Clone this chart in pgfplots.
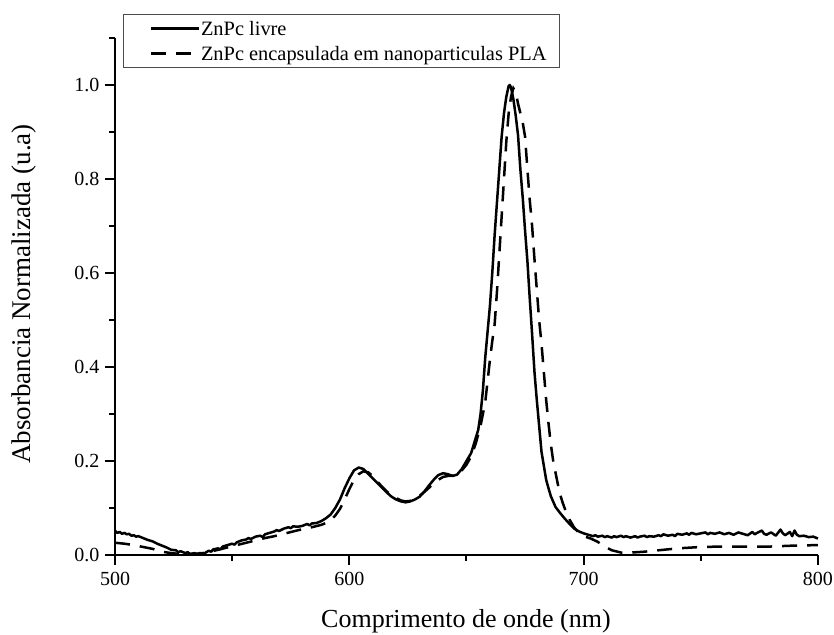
\documentclass[border=0pt]{standalone}
\usepackage{fontspec}
\setmainfont{Liberation Serif}
\usepackage{pgfplots}
\pgfplotsset{compat=1.18}
\begin{document}
\begin{tikzpicture}
\begin{axis}[
  scale only axis, width=703pt, height=517pt,
  xmin=500, xmax=800, ymin=0, ymax=1.1,
  axis lines*=left,
  axis line style={line width=2pt, black},
  xtick={500,600,700,800}, minor xtick={550,650,750},
  ytick={0,0.2,0.4,0.6,0.8,1.0}, minor ytick={0.1,0.3,0.5,0.7,0.9,1.1},
  tick align=outside, major tick length=10pt, minor tick length=6pt,
  every tick/.style={line width=2pt, black},
  /pgf/number format/assume math mode=true,
  ticklabel style={font=\fontsize{20}{23}\selectfont},
  yticklabel style={/pgf/number format/fixed, /pgf/number format/fixed zerofill, /pgf/number format/precision=1, xshift=-2pt},
  xticklabel style={/pgf/number format/1000 sep={}, yshift=-4pt},
  xlabel={Comprimento de onde (nm)},
  xlabel style={at={(rel axis cs:0.4993,-0.1412)}, anchor=base, font=\fontsize{26}{30}\selectfont},
  ylabel={Absorbancia Normalizada (u.a)},
  ylabel style={at={(rel axis cs:-0.1294,0.505)}, anchor=center, rotate=0, font=\fontsize{27}{31}\selectfont},
  legend cell align=left,
  legend image code/.code={\path (-14pt,0pt); \draw[#1] (0pt,0pt) -- (48pt,0pt);},
  legend style={at={(rel axis cs:0.0114,1.0464)}, anchor=north west, draw=black!70, line width=1pt, fill=white,
    inner xsep=12pt, inner ysep=4.5pt, row sep=6pt,
    font=\fontsize{20.4}{24}\selectfont,
    nodes={inner sep=1pt, text height=16pt, text depth=1pt}},
  clip=false,
]
\addplot[black, line width=2.5pt, line join=round] coordinates {
(500,0.052)(501,0.047)(502,0.049)(503,0.045)(504,0.047)(505,0.044)(506,0.045)(507,0.041)(508,0.042)(509,0.039)(510,0.040)(512,0.036)(514,0.032)(516,0.029)(518,0.024)(520,0.020)(522,0.016)(524,0.011)(526,0.010)(527,0.006)(528,0.008)(530,0.004)(531,0.006)(532,0.002)(534,0.004)(535,0.001)(536,0.004)(538,0.003)(540,0.009)(541,0.007)(542,0.012)(544,0.014)(545,0.012)(546,0.018)(548,0.021)(550,0.024)(551,0.022)(552,0.027)(554,0.031)(556,0.033)(557,0.036)(558,0.034)(560,0.039)(562,0.041)(563,0.038)(564,0.044)(566,0.047)(568,0.050)(569,0.053)(570,0.051)(572,0.056)(574,0.059)(575,0.057)(576,0.061)(578,0.060)(580,0.062)(582,0.066)(583,0.063)(584,0.067)(586,0.068)(588,0.072)(590,0.078)(592,0.086)(594,0.100)(596,0.118)(598,0.142)(600,0.163)(602,0.180)(604,0.186)(606,0.183)(608,0.173)(610,0.163)(612,0.153)(614,0.143)(616,0.133)(618,0.124)(620,0.118)(622,0.114)(624,0.112)(626,0.114)(628,0.118)(630,0.124)(632,0.135)(634,0.148)(636,0.160)(638,0.170)(640,0.174)(642,0.172)(644,0.168)(646,0.171)(648,0.183)(650,0.200)(652,0.217)(654,0.250)(655,0.266)(656,0.300)(657,0.350)(658,0.420)(659,0.475)(660,0.530)(661,0.600)(662,0.680)(663,0.750)(664,0.820)(665,0.890)(666,0.940)(667,0.975)(668,0.998)(668.5,1.000)(669,0.995)(670,0.970)(671,0.935)(672,0.893)(673,0.820)(674,0.760)(675,0.690)(676,0.625)(677,0.545)(678,0.470)(679,0.390)(680,0.330)(681,0.275)(682,0.220)(683,0.190)(684,0.160)(685,0.142)(686,0.125)(688,0.102)(690,0.089)(692,0.077)(694,0.066)(696,0.056)(698,0.050)
(700,0.046)(702,0.043)(704,0.040)(705,0.042)(706,0.039)(708,0.041)(709,0.038)(710,0.040)(712,0.037)(713,0.040)(714,0.038)(716,0.041)(717,0.038)(718,0.040)(720,0.037)(722,0.040)(723,0.037)(724,0.039)(726,0.041)(727,0.038)(728,0.040)(730,0.039)(732,0.042)(733,0.040)(734,0.044)(736,0.041)(738,0.043)(739,0.040)(740,0.045)(742,0.043)(744,0.046)(745,0.043)(746,0.047)(748,0.044)(750,0.046)(752,0.048)(753,0.044)(754,0.047)(756,0.045)(758,0.048)(760,0.044)(762,0.047)(764,0.043)(766,0.048)(768,0.045)(770,0.042)(772,0.049)(773,0.044)(774,0.047)(776,0.052)(777,0.045)(778,0.043)(780,0.048)(782,0.041)(784,0.054)(785,0.046)(786,0.042)(788,0.049)(789,0.040)(790,0.052)(791,0.043)(792,0.040)(794,0.041)(796,0.038)(798,0.039)(800,0.035)
};
\addlegendentry{ZnPc livre}
\addplot[black, line width=2.5pt, dash pattern=on 15pt off 10pt] coordinates {
(500,0.026)(504,0.024)(508,0.021)(512,0.017)(516,0.013)(520,0.007)(524,0.004)(528,0.002)(532,0.002)(536,0.003)(540,0.006)(544,0.011)(548,0.016)(552,0.021)(556,0.026)(560,0.031)(564,0.036)(568,0.040)(572,0.045)(576,0.050)(580,0.055)(584,0.059)(588,0.064)(590,0.068)(592,0.074)(594,0.084)(596,0.098)(598,0.118)(600,0.140)(602,0.160)(604,0.172)(606,0.178)(608,0.176)(610,0.168)(612,0.156)(614,0.145)(616,0.135)(618,0.127)(620,0.121)(622,0.116)(624,0.114)(626,0.115)(628,0.119)(630,0.126)(632,0.134)(634,0.143)(636,0.152)(638,0.160)(640,0.166)(642,0.168)(644,0.169)(646,0.172)(648,0.180)(650,0.192)(652,0.210)(654,0.238)(656,0.275)(658,0.325)(660,0.415)(661,0.455)(662,0.490)(663,0.560)(664,0.640)(665,0.720)(666,0.800)(667,0.880)(668,0.940)(669,0.975)(670,0.993)(671,0.985)(672,0.960)(673,0.940)(674,0.920)(675,0.890)(676,0.820)(677,0.755)(678,0.700)(679,0.630)(680,0.565)(681,0.500)(682,0.450)(683,0.390)(684,0.330)(685,0.280)(686,0.235)(687,0.200)(688,0.175)(689,0.150)(690,0.128)(691,0.112)(692,0.098)(693,0.087)(694,0.075)(696,0.058)(698,0.047)(700,0.040)(703,0.035)(706,0.028)(709,0.018)(712,0.010)(716,0.005)(720,0.005)(726,0.007)(732,0.010)(740,0.014)(750,0.017)(760,0.018)(770,0.018)(780,0.018)(790,0.020)(800,0.021)
};
\addlegendentry{ZnPc encapsulada em nanoparticulas PLA}
\coordinate (bbll) at (rel axis cs:-0.1636,-0.1547);
\coordinate (bbur) at (rel axis cs:1.0228,1.0735);
\end{axis}
\pgfresetboundingbox
\path (bbll) rectangle (bbur);
\end{tikzpicture}
\end{document}
